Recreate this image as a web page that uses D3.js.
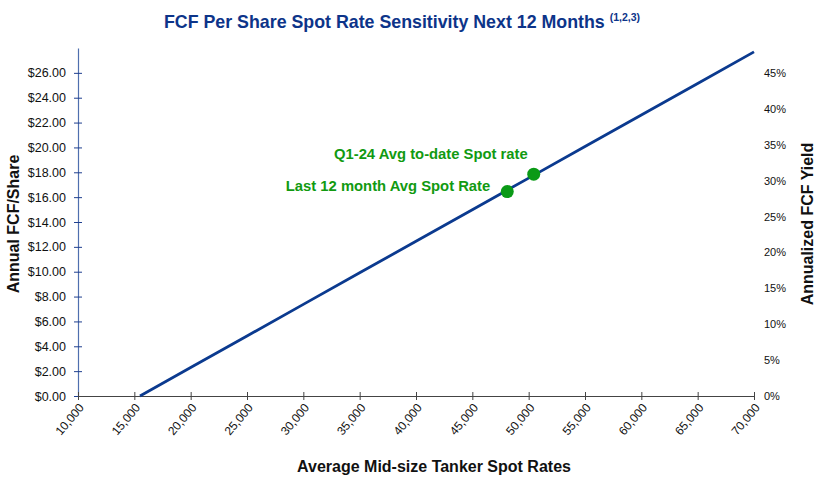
<!DOCTYPE html>
<html>
<head>
<meta charset="utf-8">
<script src="https://cdn.jsdelivr.net/npm/d3@7"></script>
<style>
  body { margin: 0; background: #fff; }
  svg { font-family: "Liberation Sans", Arial, sans-serif; }
</style>
</head>
<body>
<div id="chart"></div>
<script>
// spot rate ($/day) vs annual FCF per share
const spotRates = [15500, 20000, 25000, 30000, 35000, 40000, 45000, 50000, 55000, 60000, 65000, 70000];
const fcfPerShare = [0, 2.29, 4.83, 7.37, 9.91, 12.45, 14.99, 17.53, 20.07, 22.61, 25.15, 27.69];

const markerLabels = ["Last 12 month Avg Spot Rate", "Q1-24 Avg to-date Spot rate"];
const markerRates = [48100, 50450];
const markerFcf = [16.45, 17.85];

const xTicks = [10000, 15000, 20000, 25000, 30000, 35000, 40000, 45000, 50000, 55000, 60000, 65000, 70000];
const yTicks = [0, 2, 4, 6, 8, 10, 12, 14, 16, 18, 20, 22, 24, 26];
const yieldTicks = [0, 0.05, 0.10, 0.15, 0.20, 0.25, 0.30, 0.35, 0.40, 0.45];

const width = 818, height = 479;
const plotLeft = 78, plotRight = 754, plotTop = 48, plotBottom = 396;

const svg = d3.select("#chart").append("svg")
  .attr("width", width)
  .attr("height", height);

const x = d3.scaleLinear().domain([10000, 70000]).range([plotLeft, plotRight]);
const y = d3.scaleLinear().domain([0, 28]).range([plotBottom, plotTop]);
const y2 = d3.scaleLinear().domain([0, 0.45 * 28 / 26]).range([plotBottom, plotTop]);

// left axis
const yAxis = svg.append("g")
  .attr("transform", `translate(${plotLeft},0)`)
  .call(d3.axisLeft(y).tickValues(yTicks).tickFormat(d => "$" + d.toFixed(2)).tickSizeInner(4).tickSizeOuter(0));
yAxis.select(".domain").attr("stroke", "#4f6fae").attr("stroke-width", 1.2);
yAxis.selectAll(".tick line").attr("stroke", "#1f3f8f").attr("x2", 4).attr("x1", -4);
yAxis.selectAll(".tick text").attr("x", -12).attr("font-size", 12.5).attr("fill", "#111");

// right axis (labels only)
const y2Axis = svg.append("g")
  .attr("transform", `translate(${plotRight},0)`)
  .call(d3.axisRight(y2).tickValues(yieldTicks).tickFormat(d3.format(".0%")).tickSize(0));
y2Axis.select(".domain").remove();
y2Axis.selectAll(".tick text").attr("x", 10).attr("font-size", 11).attr("fill", "#111");

// bottom axis
const xAxis = svg.append("g")
  .attr("transform", `translate(0,${plotBottom})`)
  .call(d3.axisBottom(x).tickValues(xTicks).tickFormat(d3.format(",")).tickSizeInner(4).tickSizeOuter(0));
xAxis.select(".domain").attr("stroke", "#444").attr("stroke-width", 1.2);
xAxis.selectAll(".tick line").attr("stroke", "#444").attr("y1", -4).attr("y2", 4);
xAxis.selectAll(".tick text")
  .attr("font-size", 12)
  .attr("fill", "#111")
  .attr("text-anchor", "end")
  .attr("y", 0)
  .attr("dy", 0)
  .attr("transform", "translate(6,12) rotate(-50)");

// sensitivity line
const line = d3.line()
  .x((d, i) => x(spotRates[i]))
  .y(d => y(d));

svg.append("path")
  .datum(fcfPerShare)
  .attr("d", line)
  .attr("fill", "none")
  .attr("stroke", "#0b3a8f")
  .attr("stroke-width", 2.8);

// markers
svg.selectAll("circle.marker")
  .data(markerRates)
  .join("circle")
  .attr("class", "marker")
  .attr("cx", d => x(d))
  .attr("cy", (d, i) => y(markerFcf[i]))
  .attr("r", 6.5)
  .attr("fill", "#0a9a16");

svg.selectAll("text.marker-label")
  .data(markerLabels)
  .join("text")
  .attr("class", "marker-label")
  .attr("x", (d, i) => x(markerRates[i]) + (i === 0 ? -17 : -6))
  .attr("y", (d, i) => y(markerFcf[i]) + (i === 0 ? -1 : -15))
  .attr("text-anchor", "end")
  .attr("font-size", 14.8)
  .attr("font-weight", "bold")
  .attr("fill", "#119a11")
  .text(d => d);

// titles
const title = svg.append("text")
  .attr("x", 164)
  .attr("y", 28)
  .attr("font-size", 17.8)
  .attr("font-weight", "bold")
  .attr("fill", "#0d3489");
title.append("tspan").text("FCF Per Share Spot Rate Sensitivity Next 12 Months ");
title.append("tspan")
  .attr("font-size", 10.5)
  .attr("dy", -7)
  .text("(1,2,3)");

svg.append("text")
  .attr("x", 434)
  .attr("y", 472)
  .attr("text-anchor", "middle")
  .attr("font-size", 16)
  .attr("font-weight", "bold")
  .attr("fill", "#111")
  .text("Average Mid-size Tanker Spot Rates");

svg.append("text")
  .attr("transform", "translate(19,224) rotate(-90)")
  .attr("text-anchor", "middle")
  .attr("font-size", 16)
  .attr("font-weight", "bold")
  .attr("fill", "#111")
  .text("Annual FCF/Share");

svg.append("text")
  .attr("transform", "translate(813,224) rotate(-90)")
  .attr("text-anchor", "middle")
  .attr("font-size", 16)
  .attr("font-weight", "bold")
  .attr("fill", "#111")
  .text("Annualized FCF Yield");
</script>
</body>
</html>
